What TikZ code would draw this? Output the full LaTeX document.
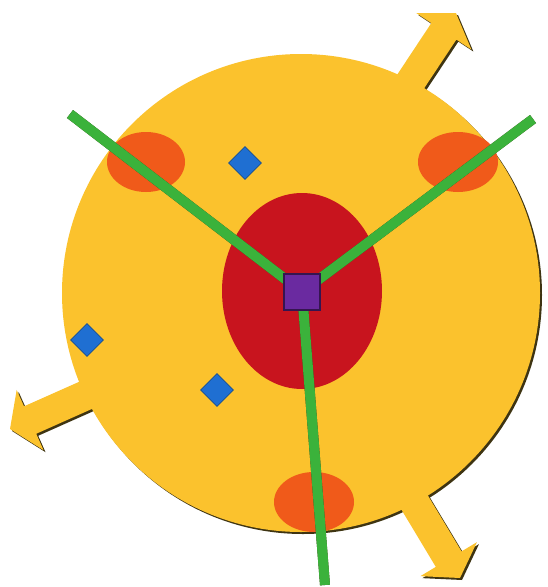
\documentclass[tikz,border=0pt]{standalone}
\usetikzlibrary{shapes.geometric}
\definecolor{yel}{HTML}{FBC22D}
\definecolor{shad}{HTML}{3E3412}
\definecolor{redc}{HTML}{C8141E}
\definecolor{orc}{HTML}{F05A1A}
\definecolor{bluc}{HTML}{1F6FD2}
\definecolor{purc}{HTML}{6A2AA0}
\definecolor{grc}{HTML}{3BB23B}
\newcommand{\arrowshape}{(0,0) -- (-22,33) -- (-22,15) -- (-120,15) -- (-120,-15) -- (-22,-15) -- (-22,-33) -- cycle}
\tikzset{
  gem/.style={diamond, fill=bluc, draw=bluc!70!black, line width=0.8pt, minimum width=33pt, minimum height=33pt, inner sep=0pt},
  spoke/.style={draw=grc, line width=10pt},
  spokeshadow/.style={draw=shad, line width=10pt},
  hub/.style={rectangle, fill=purc, draw=purc!50!black, line width=1.2pt, minimum size=36pt, inner sep=0pt},
}
\begin{document}
\begin{tikzpicture}[x=1pt,y=-1pt]
\useasboundingbox (0,0) rectangle (547,587);
% shadows
\begin{scope}[shift={(2,2)}]
  \fill[shad] (301,293) circle[radius=239];
  \begin{scope}[shift={(456,13)},rotate=56.5] \fill[shad] \arrowshape; \end{scope}
  \begin{scope}[shift={(460,578)},rotate=-59] \fill[shad] \arrowshape; \end{scope}
  \begin{scope}[shift={(10,429)},rotate=-156] \fill[shad] \arrowshape; \end{scope}
\end{scope}
% fills
\fill[yel] (301,293) circle[radius=239];
\begin{scope}[shift={(456,13)},rotate=56.5] \fill[yel] \arrowshape; \end{scope}
\begin{scope}[shift={(460,578)},rotate=-59] \fill[yel] \arrowshape; \end{scope}
\begin{scope}[shift={(10,429)},rotate=-156] \fill[yel] \arrowshape; \end{scope}
% orange ellipses
\fill[orc] (146,162) ellipse[x radius=39, y radius=30];
\fill[orc] (458,162) ellipse[x radius=40, y radius=30];
\fill[orc] (314,502) ellipse[x radius=40, y radius=30];
% red ellipse
\fill[redc] (302,291) ellipse[x radius=80, y radius=98];
% diamonds
\node[gem] (d1) at (245,163) {};
\node[gem] (d2) at (87,340) {};
\node[gem] (d3) at (217,390) {};
% spokes
\coordinate (c) at (302,292);
\coordinate (e1) at (70,114);
\coordinate (e2) at (533,119);
\coordinate (e3) at (325,585);
\begin{scope}[shift={(1.2,1.2)}]
  \draw[spokeshadow] (c) -- (e1);
  \draw[spokeshadow] (c) -- (e2);
  \draw[spokeshadow] (c) -- (e3);
\end{scope}
\draw[spoke] (c) -- (e1);
\draw[spoke] (c) -- (e2);
\draw[spoke] (c) -- (e3);
\node[hub] (sq) at (c) {};
\end{tikzpicture}
\end{document}
